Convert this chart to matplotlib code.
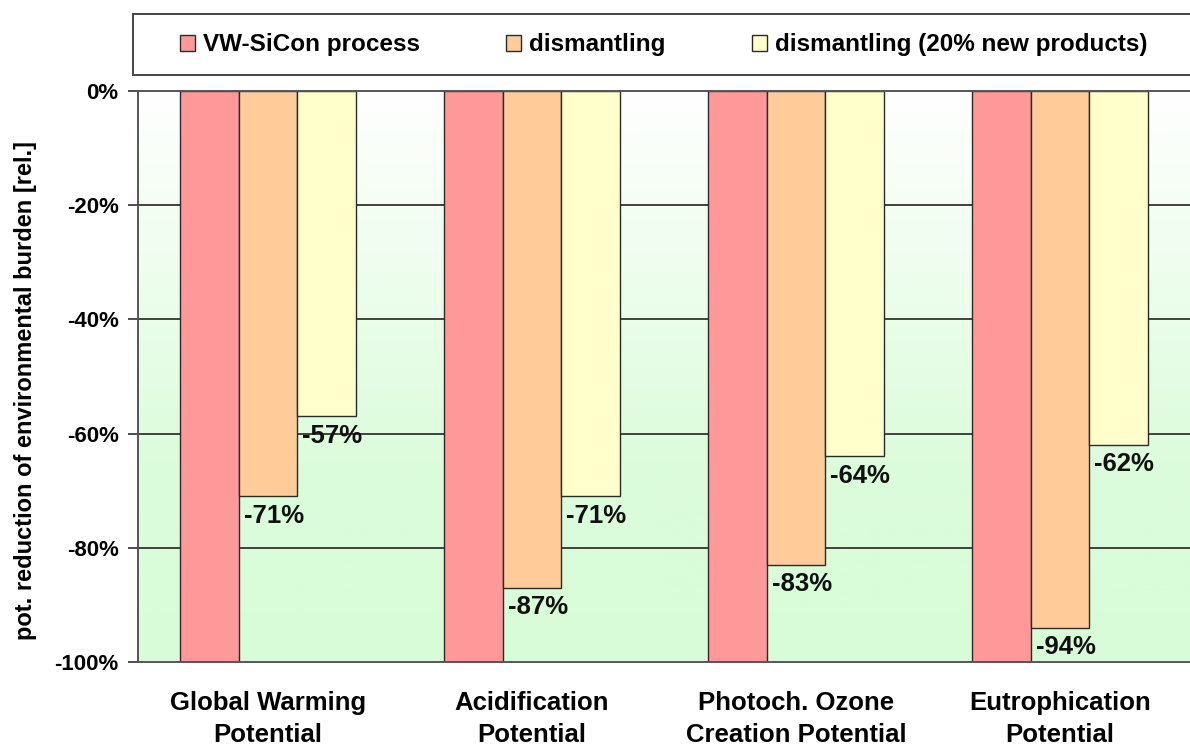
import numpy as np
import matplotlib
matplotlib.use("Agg")
import matplotlib.pyplot as plt
from matplotlib.colors import LinearSegmentedColormap
from matplotlib.patches import Rectangle

plt.rcParams["font.family"] = ["Liberation Sans", "DejaVu Sans"]
plt.rcParams["font.weight"] = "bold"

categories = ["Global Warming\nPotential", "Acidification\nPotential",
              "Photoch. Ozone\nCreation Potential", "Eutrophication\nPotential"]
series_names = ["VW-SiCon process", "dismantling", "dismantling (20% new products)"]
vw_sicon = [-100, -100, -100, -100]
dismantling = [-71, -87, -83, -94]
dismantling_new = [-57, -71, -64, -62]
labeled_series = [1, 2]  # series whose values are printed under the bars

colors = ["#ff9999", "#ffcc99", "#ffffcc"]
yticks = [0, -20, -40, -60, -80, -100]

W, H = 1190, 747
fig = plt.figure(figsize=(W / 100, H / 100), dpi=100)
ax = fig.add_axes([138 / W, 1 - 662 / H, (1194 - 138) / W, (662 - 91) / H])

x = np.arange(len(categories))
xlim = (-0.492, 3.508)
ax.set_xlim(*xlim)
ax.set_ylim(-100, 0)

# background: white at the top fading to pale green towards the bottom
grad = LinearSegmentedColormap.from_list(
    "bg", [(0.0, "#d8fcd8"), (0.35, "#dcfcdc"), (1.0, "#ffffff")])
ax.imshow(np.linspace(0, 1, 256).reshape(-1, 1), aspect="auto", cmap=grad,
          extent=(xlim[0], xlim[1], -100, 0), origin="lower", zorder=0)

for yv in yticks[1:-1]:
    ax.axhline(yv, color="#404040", lw=1.4, zorder=1)

bw = 0.222
series = [vw_sicon, dismantling, dismantling_new]
for i, (vals, c, name) in enumerate(zip(series, colors, series_names)):
    pos = x + (i - 1) * bw
    ax.bar(pos, vals, width=bw, color=c, edgecolor="#2a2a2a", lw=1.0,
           label=name, zorder=2)
    if i in labeled_series:
        for p, v in zip(pos, vals):
            ax.text(p - bw / 2 + 0.02, v - 1.3, f"{v}%", ha="left", va="top",
                    fontsize=18.5, fontweight="bold", color="#111111", zorder=3)

ax.set_yticks(yticks)
ax.set_yticklabels([f"{v}%" for v in yticks], fontsize=16, fontweight="bold")
ax.set_xticks(x)
ax.set_xticklabels(categories, fontsize=18.5, fontweight="bold", linespacing=1.4)
ax.tick_params(axis="x", length=0, pad=21)
ax.tick_params(axis="y", length=7, width=1.3, color="#404040", pad=7)
ax.set_ylabel("pot. reduction of environmental burden [rel.]", fontsize=17,
              fontweight="bold")
ax.yaxis.set_label_coords(-0.096, 0.475)

for s in ["left", "top", "bottom"]:
    ax.spines[s].set_color("#555555")
    ax.spines[s].set_linewidth(1.4)
ax.spines["right"].set_visible(False)

# legend box across the top
fig.patches.append(Rectangle((133 / W, 1 - 75 / H), (1200 - 133) / W, 61 / H,
                             transform=fig.transFigure, facecolor="white",
                             edgecolor="#444444", lw=1.4, zorder=0))
handles, labels = ax.get_legend_handles_labels()
leg = fig.legend(handles, labels, loc="center left", ncol=3,
                 bbox_to_anchor=(180 / W, 1 - 45 / H), frameon=False,
                 fontsize=17.5, handlelength=0.6, handleheight=0.6,
                 handletextpad=0.35, columnspacing=3.55, borderpad=0,
                 borderaxespad=0)
for t in leg.get_texts():
    t.set_fontweight("bold")

fig.savefig("out.png", dpi=100, facecolor="white")
